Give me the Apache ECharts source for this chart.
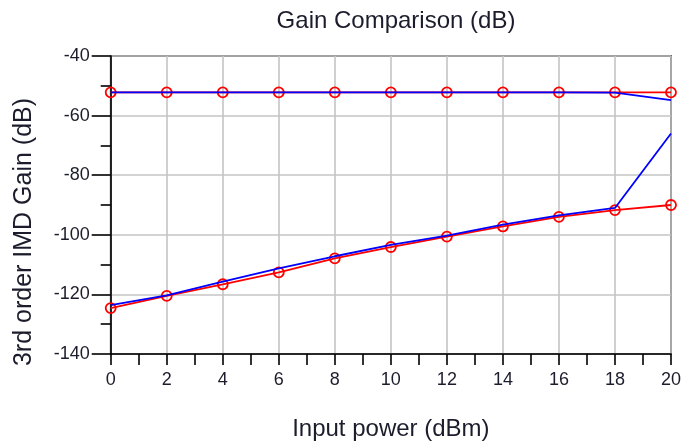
<!DOCTYPE html>
<html>
<head>
<meta charset="utf-8">
<script src="https://cdn.jsdelivr.net/npm/echarts@6/dist/echarts.min.js"></script>
<style>
  html, body { margin: 0; padding: 0; background: #fff; }
  #chart { width: 685px; height: 446px; }
</style>
</head>
<body>
<div id="chart"></div>
<script>
// Input power sweep (dBm)
const inputPower = [0, 2, 4, 6, 8, 10, 12, 14, 16, 18, 20];

// Red traces (with markers)
const redUpper = [-52.2, -52.2, -52.2, -52.2, -52.2, -52.2, -52.2, -52.2, -52.2, -52.2, -52.2];
const redLower = [-124.6, -120.5, -116.6, -112.6, -107.9, -104.1, -100.6, -97.2, -94.0, -91.7, -90.0];

// Blue traces (plain lines)
const blueUpper = [-52.2, -52.2, -52.2, -52.2, -52.2, -52.2, -52.2, -52.2, -52.2, -52.3, -54.8];
const blueLower = [-123.6, -120.3, -115.7, -111.3, -107.2, -103.4, -100.3, -96.6, -93.5, -91.0, -66.0];

const xTicks = { min: 0, max: 20, step: 2 };
const yTicks = { min: -140, max: -40, step: 20 };

const FONT = "'Liberation Sans', Arial, sans-serif";
const TEXT = '#1c1c2c';

function pairs(ys) { return inputPower.map((x, i) => [x, ys[i]]); }

const markerStyle = {
  color: 'rgba(0,0,0,0)',
  borderColor: '#ff0000',
  borderWidth: 1.8
};

const chart = echarts.init(document.getElementById('chart'), null, { renderer: 'canvas' });

chart.setOption({
  backgroundColor: '#ffffff',
  animation: false,
  title: {
    text: 'Gain Comparison (dB)',
    left: 391,
    top: 4,
    textAlign: 'center',
    textStyle: { fontFamily: FONT, fontSize: 24, fontWeight: 'normal', color: TEXT }
  },
  // rotated y-axis caption, placed beside the plot
  graphic: [{
    type: 'text',
    x: 24,
    y: 232,
    rotation: Math.PI / 2,
    style: {
      text: '3rd order IMD Gain (dB)',
      font: "25px 'Liberation Sans', Arial, sans-serif",
      fill: TEXT,
      align: 'center',
      verticalAlign: 'middle'
    }
  }],
  grid: {
    left: 110.7,
    right: 14,
    top: 56,
    bottom: 92,
    outerBoundsMode: 'none',
    show: true,
    borderColor: '#000',
    borderWidth: 1.6,
    backgroundColor: 'rgba(0,0,0,0)'
  },
  xAxis: {
    type: 'value',
    min: xTicks.min,
    max: xTicks.max,
    interval: xTicks.step,
    name: 'Input power (dBm)',
    nameLocation: 'middle',
    nameGap: 63,
    nameTextStyle: { fontFamily: FONT, fontSize: 24, color: TEXT },
    axisLine: { show: true, onZero: false, lineStyle: { color: '#000', width: 1.6 } },
    axisTick: { show: true, length: 11, lineStyle: { color: '#000', width: 1.6 } },
    minorTick: { show: true, splitNumber: 2, length: 11, lineStyle: { color: '#000', width: 1.6 } },
    axisLabel: { fontFamily: FONT, fontSize: 18, color: TEXT, margin: 17 },
    splitLine: { show: true, lineStyle: { color: '#c4c4c4', width: 1.6 } }
  },
  yAxis: {
    type: 'value',
    min: yTicks.min,
    max: yTicks.max,
    interval: yTicks.step,
    axisLine: { show: true, onZero: false, lineStyle: { color: '#000', width: 1.6 } },
    axisTick: { show: true, length: 19, lineStyle: { color: '#000', width: 1.6 } },
    minorTick: { show: true, splitNumber: 2, length: 10, lineStyle: { color: '#000', width: 1.6 } },
    axisLabel: { fontFamily: FONT, fontSize: 18, color: TEXT, margin: 21, padding: [0, 0, 7, 0] },
    splitLine: { show: true, lineStyle: { color: '#c4c4c4', width: 1.6 } }
  },
  series: [
    {
      name: 'red upper', type: 'line', data: pairs(redUpper),
      clip: false, symbol: 'circle', symbolSize: 10, showSymbol: true,
      lineStyle: { color: '#ff0000', width: 1.8 }, itemStyle: markerStyle, z: 2
    },
    {
      name: 'red lower', type: 'line', data: pairs(redLower),
      clip: false, symbol: 'circle', symbolSize: 10, showSymbol: true,
      lineStyle: { color: '#ff0000', width: 1.8 }, itemStyle: markerStyle, z: 2
    },
    {
      name: 'blue upper', type: 'line', data: pairs(blueUpper),
      clip: false, symbol: 'none',
      lineStyle: { color: '#0000ff', width: 1.8 }, z: 3
    },
    {
      name: 'blue lower', type: 'line', data: pairs(blueLower),
      clip: false, symbol: 'none',
      lineStyle: { color: '#0000ff', width: 1.8 }, z: 3
    }
  ]
});
</script>
</body>
</html>
